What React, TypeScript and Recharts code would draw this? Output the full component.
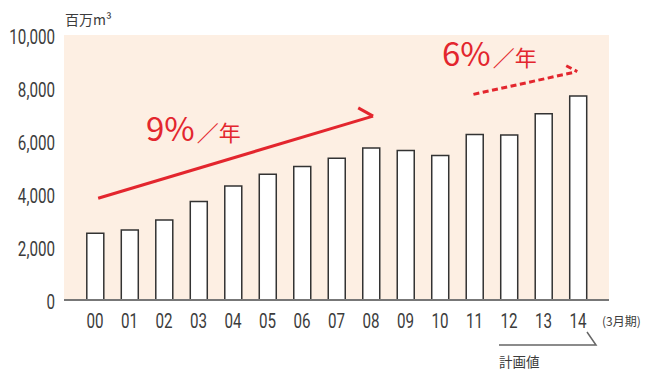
import { BarChart, Bar, XAxis, YAxis, CartesianGrid, ReferenceLine } from 'recharts';

document.body.style.margin = '0';

const years = ['00', '01', '02', '03', '04', '05', '06', '07', '08', '09', '10', '11', '12', '13', '14'];
const volumes = [2520, 2640, 3020, 3720, 4300, 4750, 5040, 5350, 5740, 5640, 5450, 6250, 6230, 7030, 7700];
const yTicks = [0, 2000, 4000, 6000, 8000, 10000];

// trend arrows in data coordinates (x = index of fiscal year)
const trendPast = [{ x: 0.09, y: 3840 }, { x: 8.06, y: 6940 }];
const trendPastHead = [{ x: 7.63, y: 7250 }, { x: 8.06, y: 6940 }];
const trendPlan = [{ x: 10.97, y: 7760 }, { x: 13.92, y: 8600 }];
const trendPlanHead = [{ x: 13.66, y: 8840 }, { x: 13.98, y: 8620 }];

const data = years.map((name, i) => ({ idx: i, name, value: volumes[i] }));

const RED = '#e3262e';
const TEXT = '#3c3c3c';
const tickFont = 'Roboto, sans-serif';
const jpFont = "'Noto Sans CJK JP', 'Noto Sans', sans-serif";

// narrow-looking tick labels (the original uses a condensed face)
function CondensedTick({ x, y, payload, anchor, dy, format }: any) {
  return (
    <g transform={`translate(${x},${y})`}>
      <text
        x={0}
        y={0}
        dy={dy}
        textAnchor={anchor}
        transform="scale(0.76,1)"
        fill={TEXT}
        fontSize={20}
        fontFamily={tickFont}
      >
        {format(payload.value)}
      </text>
    </g>
  );
}

export default function App() {
  return (
    <div style={{ position: 'relative', width: 646, height: 370, background: '#fff' }}>
      <BarChart
        width={646}
        height={370}
        data={data}
        margin={{ top: 35, right: 37, left: 0, bottom: 0 }}
      >
        <CartesianGrid horizontal={false} vertical={false} fill="#fdefe3" />
        <XAxis
          dataKey="idx"
          type="number"
          domain={[-0.9, 14.9]}
          ticks={years.map((_, i) => i)}
          height={70}
          tickLine={false}
          tickSize={0}
          tickMargin={14}
          axisLine={{ stroke: '#777', strokeWidth: 2 }}
          tick={(p: any) => (
            <CondensedTick {...p} anchor="middle" dy="0.72em" format={(i: number) => years[i]} />
          )}
          allowDataOverflow
        />
        <YAxis
          domain={[0, 10000]}
          ticks={yTicks}
          width={64}
          axisLine={false}
          tickLine={false}
          tickSize={0}
          tickMargin={9}
          tick={(p: any) => (
            <CondensedTick {...p} anchor="end" dy={9} format={(v: number) => v.toLocaleString('en-US')} />
          )}
        />
        <Bar dataKey="value" barSize={17} fill="#fff" stroke="#333" strokeWidth={1.5} isAnimationActive={false} />
        <ReferenceLine segment={trendPast} stroke={RED} strokeWidth={3} />
        <ReferenceLine segment={trendPastHead} stroke={RED} strokeWidth={3} />
        <ReferenceLine segment={trendPlan} stroke={RED} strokeWidth={3} strokeDasharray="6 3.5" />
        <ReferenceLine segment={trendPlanHead} stroke={RED} strokeWidth={3} strokeDasharray="6 3.5" />
      </BarChart>
      <svg
        width={646}
        height={370}
        style={{ position: 'absolute', left: 0, top: 0, pointerEvents: 'none' }}
      >
        <text x={65} y={25} fontSize={14} fill={TEXT} fontFamily={jpFont}>百万m³</text>
        <text x={146} y={141} fill={RED} fontFamily={jpFont}>
          <tspan fontSize={33}>9%</tspan>
          <tspan fontSize={22} dx={2}>／年</tspan>
        </text>
        <text x={442} y={66} fill={RED} fontFamily={jpFont}>
          <tspan fontSize={33}>6%</tspan>
          <tspan fontSize={22} dx={2}>／年</tspan>
        </text>
        <text x={602} y={326} fontSize={12} fill={TEXT} fontFamily={jpFont}>(3月期)</text>
        <path d="M499 345 H596 L587 332" fill="none" stroke="#666" strokeWidth={1.5} />
        <text x={499} y={367} fontSize={13.5} fill={TEXT} fontFamily={jpFont}>計画値</text>
      </svg>
    </div>
  );
}
